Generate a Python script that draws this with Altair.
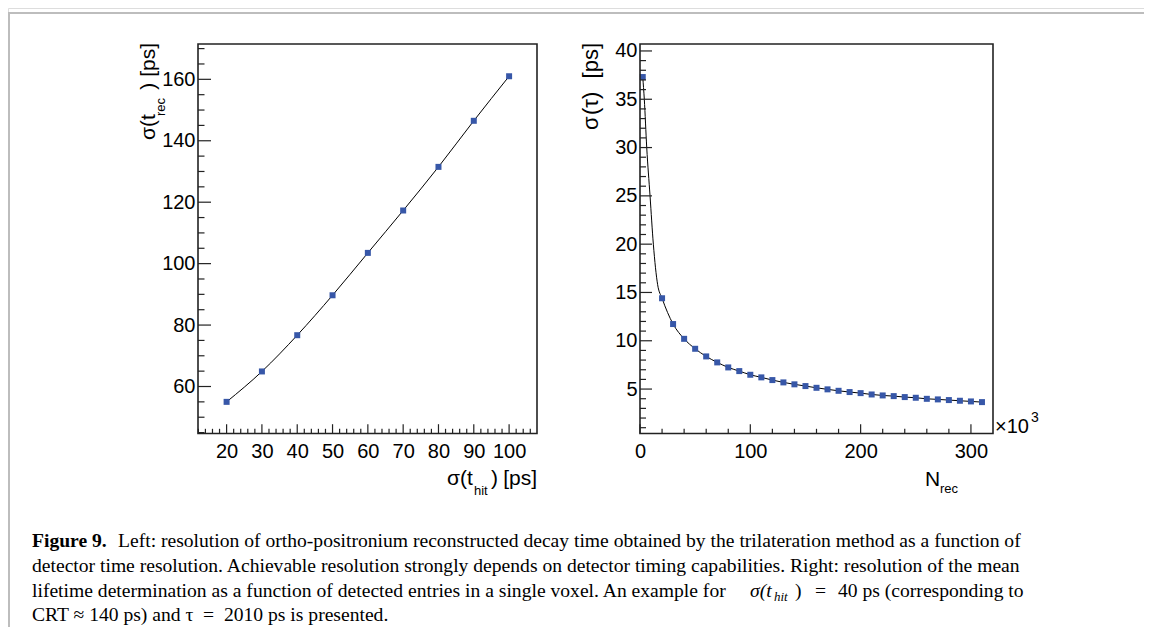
import altair as alt
import pandas as pd

# ---------------- data ----------------
# left panel: sigma(t_hit) [ps] -> sigma(t_rec) [ps]
t_hit = [20, 30, 40, 50, 60, 70, 80, 90, 100]
t_rec = [55.0, 64.9, 76.7, 89.7, 103.5, 117.3, 131.5, 146.5, 161.0]

# right panel: N_rec [x10^3] -> sigma(tau) [ps]
n_rec = [2.5, 20, 30, 40, 50, 60, 70, 80, 90, 100, 110, 120, 130, 140, 150,
         160, 170, 180, 190, 200, 210, 220, 230, 240, 250, 260, 270, 280,
         290, 300, 310]
sigma_tau = [37.3, 14.4, 11.73, 10.2, 9.17, 8.38, 7.76, 7.24, 6.86, 6.48,
             6.21, 5.93, 5.69, 5.49, 5.31, 5.13, 4.97, 4.82, 4.69, 4.58,
             4.44, 4.34, 4.27, 4.17, 4.10, 3.99, 3.93, 3.86, 3.79, 3.72, 3.65]

# fitted curve, steep part
fit_n = [2.5, 3.9, 6.1, 9.1, 12.1, 16.0, 20]
fit_s = [37.3, 35.0, 30.0, 25.0, 20.0, 15.8, 14.4]

# tick labels
left_x_ticks = [20, 30, 40, 50, 60, 70, 80, 90, 100]
left_y_ticks = [60, 80, 100, 120, 140, 160]
right_x_ticks = [0, 100, 200, 300]
right_y_ticks = [5, 10, 15, 20, 25, 30, 35, 40]

left_x_minor = [v for v in range(12, 108, 2) if v % 10 != 0]
left_y_minor = [v for v in range(45, 172, 5) if v % 20 != 0]
right_x_minor = [v for v in range(20, 320, 20) if v % 100 != 0]
right_y_minor = [v for v in range(1, 41) if v % 5 != 0]

caption_l1 = "Left: resolution of ortho-positronium reconstructed decay time obtained by the trilateration method as a function of"
caption_l2 = "detector time resolution. Achievable resolution strongly depends on detector timing capabilities. Right: resolution of the mean"
caption_l3 = "lifetime determination as a function of detected entries in a single voxel. An example for"
caption_l3b = "40 ps (corresponding to"
caption_l4 = "CRT ≈ 140 ps) and τ\u00a0\u00a0=\u00a0\u00a02010 ps is presented."

# ---------------- layout ----------------
W, H = 1136, 619
L_X0, L_X1 = 190, 529
R_X0, R_X1 = 632, 985
Y_TOP, Y_BOT = 36, 425.5

SANS = "Liberation Sans"
SERIF = "Liberation Serif"
BLUE = "#3757a8"
FS = 20
CS = 19.6  # caption size

lx = alt.Scale(domain=[11.9, 107.9], range=[L_X0, L_X1], nice=False, zero=False)
ly = alt.Scale(domain=[44.7, 171.5], range=[Y_BOT, Y_TOP], nice=False, zero=False)
rx = alt.Scale(domain=[0, 320], range=[R_X0, R_X1], nice=False, zero=False)
ry = alt.Scale(domain=[0.4, 40.72], range=[Y_BOT, Y_TOP], nice=False, zero=False)

df_left = pd.DataFrame({"x": t_hit, "y": t_rec})
df_right = pd.DataFrame({"x": n_rec, "y": sigma_tau})
df_fit = pd.DataFrame({"x": fit_n + n_rec[2:], "y": fit_s + sigma_tau[2:]})
one = pd.DataFrame({"a": [0]})


def xaxis(vals, off):
    return alt.Axis(values=vals, orient="bottom", offset=off, ticks=False, tickSize=0,
                    domain=False, grid=False, labelFont=SANS, labelFontSize=FS,
                    labelColor="black", labelPadding=8, labelFlush=False,
                    labelOverlap=False, title=None, format="d")


def yaxis(vals, off):
    return alt.Axis(values=vals, orient="left", offset=off, ticks=False, tickSize=0,
                    domain=False, grid=False, labelFont=SANS, labelFontSize=FS,
                    labelColor="black", labelPadding=3, labelFlush=False,
                    labelOverlap=False, title=None, format="d")


def ticks_y(vals, scale, x0, length):
    d = pd.DataFrame({"v": vals})
    return alt.Chart(d).mark_rule(color="#222", strokeWidth=1.2).encode(
        y=alt.Y("v:Q", scale=scale, axis=None),
        x=alt.value(x0), x2=alt.value(x0 + length))


def ticks_x(vals, scale, length):
    d = pd.DataFrame({"v": vals})
    return alt.Chart(d).mark_rule(color="#222", strokeWidth=1.2).encode(
        x=alt.X("v:Q", scale=scale, axis=None),
        y=alt.value(Y_BOT), y2=alt.value(Y_BOT - length))


def frame(x0, x1):
    return alt.Chart(one).mark_rect(fillOpacity=0, stroke="#222", strokeWidth=1.6).encode(
        x=alt.value(x0), x2=alt.value(x1), y=alt.value(Y_TOP), y2=alt.value(Y_BOT))


def txt(s, x, y, size=FS, align="left", angle=0, font=SANS, weight="normal",
        style="normal"):
    return alt.Chart(one).mark_text(
        text=s, align=align, baseline="alphabetic", angle=angle, font=font,
        fontSize=size, fontWeight=weight, fontStyle=style, color="black"
    ).encode(x=alt.value(x), y=alt.value(y))


xoff = -(H - Y_BOT)

# left panel
left_line = alt.Chart(df_left).mark_line(color="black", strokeWidth=1, interpolate="monotone").encode(
    x=alt.X("x:Q", scale=lx, axis=xaxis(left_x_ticks, xoff)),
    y=alt.Y("y:Q", scale=ly, axis=yaxis(left_y_ticks, -L_X0)))
left_pts = alt.Chart(df_left).mark_square(size=36, color=BLUE, opacity=1).encode(
    x=alt.X("x:Q", scale=lx, axis=None),
    y=alt.Y("y:Q", scale=ly, axis=None))

# right panel
right_line = alt.Chart(df_fit).mark_line(color="black", strokeWidth=1, interpolate="monotone").encode(
    x=alt.X("x:Q", scale=rx, axis=xaxis(right_x_ticks, xoff)),
    y=alt.Y("y:Q", scale=ry, axis=yaxis(right_y_ticks, -R_X0)))
right_pts = alt.Chart(df_right).mark_square(size=36, color=BLUE, opacity=1).encode(
    x=alt.X("x:Q", scale=rx, axis=None),
    y=alt.Y("y:Q", scale=ry, axis=None))

layers = [
    # outer page frame
    alt.Chart(one).mark_rule(color="#bdbdbd", strokeWidth=2).encode(
        x=alt.value(1), y=alt.value(5), y2=alt.value(H)),
    alt.Chart(one).mark_rule(color="#bdbdbd", strokeWidth=2).encode(
        x=alt.value(0), x2=alt.value(W), y=alt.value(5)),
    left_line, left_pts,
    ticks_y(left_y_ticks, ly, L_X0, 13), ticks_y(left_y_minor, ly, L_X0, 6.5),
    ticks_x(left_x_ticks, lx, 9.3), ticks_x(left_x_minor, lx, 4.7),
    frame(L_X0, L_X1),
    right_line, right_pts,
    ticks_y(right_y_ticks, ry, R_X0, 12), ticks_y(right_y_minor, ry, R_X0, 6),
    ticks_x(right_x_ticks, rx, 9.3), ticks_x(right_x_minor, rx, 4.7),
    frame(R_X0, R_X1),
    # axis titles (ROOT style, with subscripts)
    txt("σ(t", 147, 132, angle=270, size=21),
    txt("rec", 157, 108, angle=270, size=13),
    txt(") [ps]", 147, 35, angle=270, align="right", size=21),
    txt("σ", 590, 122, angle=270, size=22),
    txt("(τ)", 590, 107, angle=270, size=22),
    txt("[ps]", 590, 35, angle=270, align="right", size=22),
    txt("σ(t", 439, 477, size=21),
    txt("hit", 466, 487, size=13),
    txt(")", 483, 477, size=21),
    txt("[ps]", L_X1, 477, align="right", size=21),
    txt("N", 917, 478, size=21),
    txt("rec", 932, 485, size=13),
    txt("×10", 987, 425, size=20),
    txt("3", 1023, 414, size=14),
    # caption
    txt("Figure 9.", 24, 539, size=CS, font=SERIF, weight="bold"),
    txt(caption_l1, 110, 539, size=CS, font=SERIF),
    txt(caption_l2, 24, 563.7, size=CS, font=SERIF),
    txt(caption_l3, 24, 588.5, size=CS, font=SERIF),
    txt("σ(t", 742, 588.5, size=CS, font=SERIF, style="italic"),
    txt("hit", 766, 592.5, size=13, font=SERIF, style="italic"),
    txt(")", 787, 588.5, size=CS, font=SERIF),
    txt("=", 807, 588.5, size=CS, font=SERIF),
    txt(caption_l3b, 830, 588.5, size=CS, font=SERIF),
    txt(caption_l4, 24, 613.2, size=CS, font=SERIF),
]

chart = alt.layer(*layers).resolve_scale(x="independent", y="independent").properties(
    width=W, height=H,
    autosize=alt.AutoSizeParams(type="none"),
    padding=0,
).configure_view(stroke=None).configure(background="white")

chart.save("out.html", embed_options={"renderer": "svg", "actions": False})
